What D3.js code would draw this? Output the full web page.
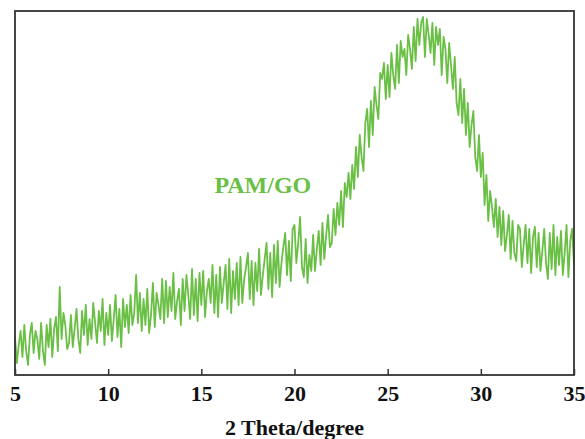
<!DOCTYPE html>
<html lang="en">
<head>
  <meta charset="UTF-8" />
  <script src="https://d3js.org/d3.v7.min.js"></script>
  <style>
    body { margin: 0; background: #fff; }
    text { font-family: "Liberation Serif", "Times New Roman", serif; font-weight: bold; }
  </style>
</head>
<body>
  <div id="scene"></div>

  <script>
    // 2 Theta from 5 to 35 in 0.1 degree steps, intensity (a.u.)
    const thetaStart = 5, thetaStep = 0.1;
    const intensity = [
      38, 12, 30, 44, 18, 50, 24, 10, 40, 52,           // 5
      22, 44, 36, 16, 52, 24, 10, 50, 28, 56,           // 6
      18, 46, 58, 24, 88, 36, 62, 50, 26, 32,           // 7
      60, 28, 46, 66, 36, 22, 64, 40, 70, 30,           // 8
      56, 36, 72, 52, 32, 64, 44, 76, 30, 62,           // 9
      40, 70, 34, 56, 80, 38, 66, 28, 76, 48,           // 10
      70, 42, 80, 50, 62, 100, 52, 82, 44, 76,          // 11
      50, 86, 42, 60, 92, 48, 82, 70, 56, 96,           // 12
      52, 94, 58, 88, 64, 102, 56, 74, 86, 50,          // 13
      96, 64, 100, 80, 56, 106, 60, 96, 54, 102,        // 14
      70, 104, 58, 84, 96, 72, 110, 62, 100, 58,        // 15
      108, 72, 92, 110, 66, 116, 62, 104, 76, 112,      // 16
      70, 118, 72, 96, 108, 122, 76, 114, 70, 112,      // 17
      84, 126, 80, 100, 116, 132, 86, 122, 78, 130,     // 18
      92, 134, 88, 112, 128, 142, 100, 134, 94, 146,    // 19
      150, 112, 132, 158, 108, 98, 136, 92, 120, 104,   // 20
      140, 104, 126, 144, 110, 152, 116, 140, 160, 128, // 21
      132, 166, 140, 172, 150, 184, 148, 192, 178, 202, // 22
      176, 210, 186, 228, 198, 240, 218, 204, 252, 266, // 23
      228, 274, 240, 288, 270, 256, 302, 296, 312, 276, // 24
      310, 278, 322, 300, 286, 330, 292, 334, 318, 326, // 25
      300, 340, 326, 306, 348, 314, 356, 330, 352, 358, // 26
      318, 356, 340, 322, 352, 310, 348, 330, 346, 300, // 27
      338, 326, 292, 332, 310, 286, 318, 272, 260, 296, // 28
      252, 286, 240, 272, 228, 250, 264, 218, 204, 240, // 29
      198, 222, 170, 200, 154, 184, 168, 148, 176, 138, // 30
      168, 130, 164, 124, 140, 160, 116, 154, 122, 114, // 31
      150, 146, 108, 130, 150, 112, 146, 102, 138, 148, // 32
      108, 142, 104, 124, 146, 112, 96, 142, 106, 150,  // 33
      100, 138, 110, 144, 100, 122, 150, 98, 134, 146,  // 34
      110                                               // 35
    ];
    const xTicks = [5, 10, 15, 20, 25, 30, 35];
    const seriesName = "PAM/GO";

    const data = intensity.map((v, i) => ({ theta: thetaStart + i * thetaStep, y: v }));

    const width = 585, height = 439;
    const margin = { top: 11, left: 15, right: 11, bottom: 64 };
    const w = width - margin.left - margin.right, h = height - margin.top - margin.bottom;
    const green = "#6abf45";
    const serif = "'Liberation Serif', 'Times New Roman', serif";

    const svg = d3.select("#scene").append("svg").attr("width", width).attr("height", height);
    const g = svg.append("g").attr("transform", `translate(${margin.left},${margin.top})`);

    const x = d3.scaleLinear().domain([5, 35]).range([0, w]);
    const y = d3.scaleLinear().domain([0, h]).range([h, 0]);

    const line = d3.line().x(d => x(d.theta)).y(d => y(d.y));
    g.append("path")
      .datum(data)
      .attr("fill", "none")
      .attr("stroke", green)
      .attr("stroke-width", 1.8)
      .attr("stroke-linejoin", "round")
      .attr("d", line);

    // frame
    g.append("rect")
      .attr("width", w).attr("height", h)
      .attr("fill", "none").attr("stroke", "#333").attr("stroke-width", 1.8);

    // bottom axis, ticks pointing inward
    const ax = g.append("g").attr("transform", `translate(0,${h})`)
      .call(d3.axisBottom(x).tickValues(xTicks).tickSizeInner(-6).tickSizeOuter(0).tickPadding(10));
    ax.attr("font-family", serif).attr("font-size", 22).attr("font-weight", "bold");
    ax.select(".domain").remove();
    ax.selectAll("line").attr("stroke", "#333").attr("stroke-width", 1.5);
    ax.selectAll("text").attr("fill", "#111");

    svg.append("text")
      .attr("x", margin.left + w / 2).attr("y", 435)
      .attr("text-anchor", "middle").attr("font-size", 22).attr("fill", "#111")
      .attr("font-family", serif)
      .text("2 Theta/degree");

    g.append("text")
      .attr("x", x(15.7)).attr("y", 182)
      .attr("font-size", 24).attr("fill", green)
      .attr("font-family", serif)
      .text(seriesName);
  </script>
</body>
</html>
